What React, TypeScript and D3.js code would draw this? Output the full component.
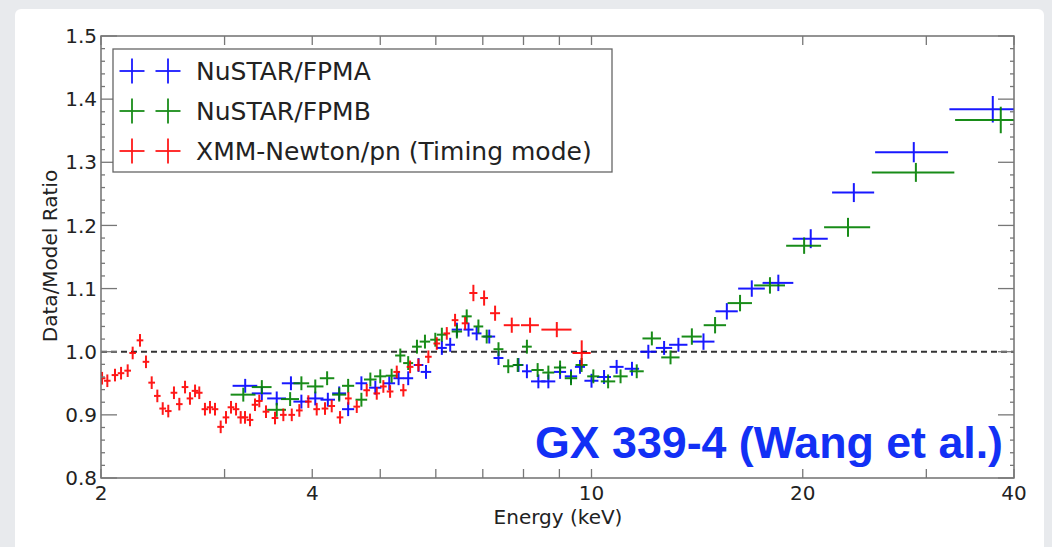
import React from 'react';
import * as d3 from 'd3';

// Axis ticks
const xTickValues = [2, 4, 10, 20, 40];
const xMinorTickValues = [3, 5, 6, 7, 8, 9, 30];
const yTickValues = [0.8, 0.9, 1.0, 1.1, 1.2, 1.3, 1.4, 1.5];
const yTickLabels = ['0.8', '0.9', '1.0', '1.1', '1.2', '1.3', '1.4', '1.5'];

// NuSTAR/FPMA
const fpmaEnergy = [3.21, 3.39, 3.56, 3.73, 3.86, 4.04, 4.21, 4.37, 4.5, 4.7, 4.92, 5.15, 5.31, 5.48, 5.67, 5.81, 6.12, 6.29, 6.43, 6.68, 6.86, 7.15, 7.37, 7.87, 8.09, 8.4, 8.68, 9.02, 9.35, 9.63, 10.0, 10.42, 10.86, 11.42, 12.05, 12.69, 13.3, 14.44, 15.59, 16.92, 18.46, 20.53, 23.65, 28.79, 37.31];
const fpmaEnergyErr = [0.13, 0.11, 0.11, 0.11, 0.1, 0.11, 0.1, 0.1, 0.09, 0.09, 0.1, 0.1, 0.09, 0.09, 0.09, 0.1, 0.1, 0.1, 0.11, 0.11, 0.11, 0.14, 0.12, 0.13, 0.13, 0.2, 0.2, 0.18, 0.19, 0.16, 0.23, 0.24, 0.25, 0.27, 0.32, 0.34, 0.4, 0.53, 0.57, 0.74, 0.93, 1.18, 1.63, 3.43, 4.95];
const fpmaRatio = [0.946, 0.934, 0.926, 0.95, 0.921, 0.926, 0.924, 0.934, 0.909, 0.95, 0.943, 0.95, 0.958, 0.958, 0.979, 0.968, 1.006, 1.011, 1.035, 1.035, 1.029, 1.024, 0.99, 0.979, 0.969, 0.953, 0.953, 0.968, 0.961, 0.976, 0.954, 0.96, 0.976, 0.973, 1.0, 1.006, 1.011, 1.016, 1.064, 1.1, 1.109, 1.179, 1.252, 1.316, 1.384];
const fpmaRatioErr = [0.011, 0.011, 0.011, 0.011, 0.011, 0.011, 0.011, 0.011, 0.011, 0.011, 0.011, 0.011, 0.011, 0.011, 0.011, 0.011, 0.011, 0.011, 0.011, 0.011, 0.011, 0.011, 0.011, 0.011, 0.011, 0.011, 0.011, 0.011, 0.011, 0.011, 0.011, 0.011, 0.011, 0.011, 0.011, 0.011, 0.011, 0.013, 0.013, 0.013, 0.013, 0.015, 0.015, 0.016, 0.021];

// NuSTAR/FPMB
const fpmbEnergy = [3.19, 3.39, 3.56, 3.72, 3.86, 4.04, 4.2, 4.37, 4.5, 4.7, 4.84, 5.0, 5.19, 5.34, 5.48, 5.64, 5.79, 5.99, 6.12, 6.43, 6.64, 6.9, 7.09, 7.37, 7.61, 7.85, 8.09, 8.38, 8.68, 9.02, 9.35, 9.68, 10.06, 10.56, 11.0, 11.6, 12.19, 12.96, 13.9, 15.0, 16.28, 17.96, 20.09, 23.2, 28.99, 38.3];
const fpmbEnergyErr = [0.13, 0.11, 0.11, 0.11, 0.1, 0.11, 0.1, 0.1, 0.09, 0.09, 0.1, 0.1, 0.1, 0.09, 0.09, 0.09, 0.1, 0.1, 0.1, 0.11, 0.11, 0.11, 0.12, 0.12, 0.13, 0.13, 0.13, 0.17, 0.17, 0.18, 0.19, 0.19, 0.2, 0.25, 0.26, 0.27, 0.37, 0.39, 0.46, 0.55, 0.65, 0.91, 1.15, 1.75, 3.9, 5.33];
const fpmbRatio = [0.932, 0.944, 0.908, 0.925, 0.95, 0.945, 0.958, 0.932, 0.946, 0.924, 0.956, 0.961, 0.962, 0.994, 0.982, 1.008, 1.016, 1.019, 1.027, 1.032, 1.056, 1.04, 1.024, 1.004, 0.977, 0.979, 1.008, 0.971, 0.967, 0.975, 0.958, 0.979, 0.961, 0.953, 0.961, 0.969, 1.021, 0.991, 1.024, 1.042, 1.077, 1.105, 1.168, 1.197, 1.284, 1.367];
const fpmbRatioErr = [0.011, 0.011, 0.011, 0.011, 0.011, 0.011, 0.011, 0.011, 0.011, 0.011, 0.011, 0.011, 0.011, 0.011, 0.011, 0.011, 0.011, 0.011, 0.011, 0.011, 0.011, 0.011, 0.011, 0.011, 0.011, 0.011, 0.011, 0.011, 0.011, 0.011, 0.011, 0.011, 0.011, 0.011, 0.011, 0.011, 0.011, 0.011, 0.013, 0.013, 0.013, 0.013, 0.013, 0.015, 0.015, 0.021];

// XMM-Newton/pn (Timing mode)
const pnEnergy = [2.007, 2.042, 2.094, 2.136, 2.183, 2.219, 2.273, 2.318, 2.362, 2.406, 2.449, 2.494, 2.541, 2.586, 2.635, 2.678, 2.723, 2.761, 2.813, 2.86, 2.907, 2.962, 3.014, 3.064, 3.115, 3.163, 3.208, 3.261, 3.315, 3.362, 3.437, 3.54, 3.638, 3.74, 3.834, 3.949, 4.059, 4.171, 4.264, 4.382, 4.503, 4.629, 4.783, 4.943, 5.051, 5.164, 5.278, 5.394, 5.514, 5.666, 5.855, 6.019, 6.22, 6.391, 6.605, 6.787, 7.03, 7.288, 7.698, 8.174, 8.924, 9.684];
const pnEnergyErr = [0.022, 0.022, 0.023, 0.023, 0.024, 0.024, 0.025, 0.025, 0.026, 0.026, 0.027, 0.027, 0.028, 0.028, 0.029, 0.029, 0.03, 0.03, 0.031, 0.031, 0.032, 0.033, 0.033, 0.034, 0.034, 0.035, 0.035, 0.036, 0.036, 0.037, 0.038, 0.039, 0.04, 0.041, 0.042, 0.043, 0.045, 0.046, 0.047, 0.048, 0.05, 0.051, 0.053, 0.054, 0.056, 0.057, 0.058, 0.059, 0.061, 0.062, 0.064, 0.066, 0.068, 0.07, 0.073, 0.09, 0.09, 0.12, 0.2, 0.24, 0.44, 0.29];
const pnRatio = [0.958, 0.954, 0.963, 0.966, 0.97, 0.998, 1.018, 0.984, 0.951, 0.93, 0.91, 0.906, 0.935, 0.917, 0.944, 0.926, 0.938, 0.935, 0.909, 0.912, 0.909, 0.881, 0.896, 0.912, 0.909, 0.896, 0.896, 0.892, 0.916, 0.922, 0.905, 0.895, 0.9, 0.9, 0.907, 0.921, 0.909, 0.91, 0.914, 0.896, 0.926, 0.913, 0.939, 0.934, 0.945, 0.937, 0.968, 0.939, 0.976, 0.979, 0.992, 1.013, 1.029, 1.05, 1.045, 1.093, 1.085, 1.061, 1.042, 1.042, 1.035, 0.998];
const pnRatioErr = [0.01, 0.01, 0.01, 0.01, 0.01, 0.01, 0.01, 0.01, 0.01, 0.01, 0.01, 0.01, 0.01, 0.01, 0.01, 0.01, 0.01, 0.01, 0.01, 0.01, 0.01, 0.01, 0.01, 0.01, 0.01, 0.01, 0.01, 0.01, 0.01, 0.01, 0.01, 0.01, 0.01, 0.01, 0.01, 0.01, 0.01, 0.01, 0.01, 0.01, 0.01, 0.01, 0.01, 0.01, 0.01, 0.01, 0.01, 0.01, 0.01, 0.01, 0.01, 0.01, 0.01, 0.01, 0.01, 0.013, 0.012, 0.012, 0.012, 0.012, 0.012, 0.02];

const seriesNames = ['NuSTAR/FPMA', 'NuSTAR/FPMB', 'XMM-Newton/pn (Timing mode)'];
const seriesColors = ['#0000ff', '#008000', '#ff0000'];

const W = 1052;
const H = 547;
const plot = { left: 101, right: 1014, top: 36, bottom: 478 };
const FONT = '"DejaVu Sans", sans-serif';

type Pt = { e: number; de: number; r: number; dr: number };

function zipSeries(e: number[], de: number[], r: number[], dr: number[]): Pt[] {
  return e.map((v, i) => ({ e: v, de: de[i], r: r[i], dr: dr[i] }));
}

const series: Pt[][] = [
  zipSeries(fpmaEnergy, fpmaEnergyErr, fpmaRatio, fpmaRatioErr),
  zipSeries(fpmbEnergy, fpmbEnergyErr, fpmbRatio, fpmbRatioErr),
  zipSeries(pnEnergy, pnEnergyErr, pnRatio, pnRatioErr),
];

export default function App() {
  const x = d3.scaleLog().domain([2, 40]).range([plot.left, plot.right]);
  const y = d3.scaleLinear().domain([0.8, 1.5]).range([plot.bottom, plot.top]);
  const yMinor = d3.range(0, 36).map((i) => 0.8 + i * 0.02).filter((v) => Math.abs(Math.round(v * 10) - v * 10) > 1e-6);

  const tickColor = '#777';
  const legendRows = [71, 111, 151];

  return (
    <svg
      width={W}
      height={H}
      style={{ position: 'absolute', left: 0, top: 0 }}
      fontFamily={FONT}
    >
      <defs>
        <clipPath id="plot-clip">
          <rect x={plot.left} y={plot.top} width={plot.right - plot.left} height={plot.bottom - plot.top} />
        </clipPath>
      </defs>
      <rect width={W} height={H} fill="#e8eaed" />
      <rect x={15} y={9} width={1029} height={560} rx={6} fill="#ffffff" />

      {/* reference line at unity */}
      <line
        x1={plot.left}
        x2={plot.right}
        y1={y(1)}
        y2={y(1)}
        stroke="#333"
        strokeWidth={2}
        strokeDasharray="6,4"
      />

      {/* error-bar crosses */}
      <g clipPath="url(#plot-clip)">
        {series.map((pts, si) => (
          <g key={si} stroke={seriesColors[si]} strokeWidth={2} opacity={0.9}>
            {pts.map((p, i) => (
              <g key={i}>
                <line x1={x(p.e - p.de)} x2={x(p.e + p.de)} y1={y(p.r)} y2={y(p.r)} />
                <line x1={x(p.e)} x2={x(p.e)} y1={y(p.r - p.dr)} y2={y(p.r + p.dr)} />
              </g>
            ))}
          </g>
        ))}
      </g>

      {/* frame */}
      <rect
        x={plot.left}
        y={plot.top}
        width={plot.right - plot.left}
        height={plot.bottom - plot.top}
        fill="none"
        stroke="#666"
        strokeWidth={1.4}
      />

      {/* x ticks, bottom and top */}
      <g stroke={tickColor} strokeWidth={1.3}>
        {[...xTickValues, ...xMinorTickValues].map((v) => (
          <g key={v}>
            <line x1={x(v)} x2={x(v)} y1={plot.bottom} y2={plot.bottom - 9} />
            <line x1={x(v)} x2={x(v)} y1={plot.top} y2={plot.top + 9} />
          </g>
        ))}
        {yTickValues.map((v) => (
          <g key={v}>
            <line x1={plot.left} x2={plot.left + 16} y1={y(v)} y2={y(v)} />
            <line x1={plot.right} x2={plot.right - 16} y1={y(v)} y2={y(v)} />
          </g>
        ))}
        {yMinor.map((v, i) => (
          <g key={i}>
            <line x1={plot.left} x2={plot.left + 4} y1={y(v)} y2={y(v)} />
            <line x1={plot.right} x2={plot.right - 4} y1={y(v)} y2={y(v)} />
          </g>
        ))}
      </g>

      {/* tick labels */}
      <g fontSize={20} fill="#222">
        {xTickValues.map((v) => (
          <text key={v} x={x(v)} y={500} textAnchor="middle">
            {String(v)}
          </text>
        ))}
        {yTickValues.map((v, i) => (
          <text key={v} x={97} y={y(v)} dy="0.36em" textAnchor="end">
            {yTickLabels[i]}
          </text>
        ))}
      </g>

      {/* axis titles */}
      <text x={558} y={524} fontSize={20} textAnchor="middle" fill="#222">
        Energy (keV)
      </text>
      <text
        transform="translate(57,256) rotate(-90)"
        fontSize={20}
        textAnchor="middle"
        fill="#222"
      >
        Data/Model Ratio
      </text>

      {/* legend */}
      <rect x={113} y={49} width={499} height={123} fill="#fff" stroke="#666" strokeWidth={1.3} />
      {seriesNames.map((name, i) => (
        <g key={name}>
          {[132, 168].map((cx) => (
            <g key={cx} stroke={seriesColors[i]} strokeWidth={1.8} opacity={0.9}>
              <line x1={cx - 12.5} x2={cx + 12.5} y1={legendRows[i]} y2={legendRows[i]} />
              <line x1={cx} x2={cx} y1={legendRows[i] - 12.5} y2={legendRows[i] + 12.5} />
            </g>
          ))}
          <text x={196} y={legendRows[i]} dy="0.36em" fontSize={25} fill="#222">
            {name}
          </text>
        </g>
      ))}

      {/* source annotation */}
      <text
        x={535}
        y={458}
        fontSize={45}
        fontWeight="bold"
        fontFamily='"Liberation Sans", Arial, sans-serif'
        fill="#1230f5"
        textLength={468}
        lengthAdjust="spacingAndGlyphs"
      >
        GX 339-4 (Wang et al.)
      </text>
    </svg>
  );
}
